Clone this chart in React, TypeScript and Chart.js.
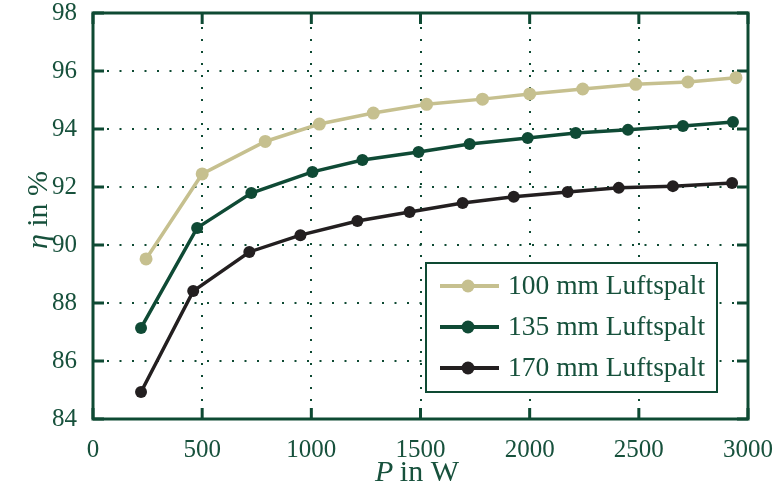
import React, { useEffect, useRef } from "react";
import { Chart, registerables } from "chart.js";

Chart.register(...registerables);

const seriesLabels = ["100 mm Luftspalt", "135 mm Luftspalt", "170 mm Luftspalt"];
const seriesColors = ["#c6c08f", "#0f4a35", "#231f20"];

const powerA = [243, 500, 789, 1037, 1284, 1528, 1784, 2000, 2243, 2486, 2725, 2945];
const etaA = [89.52, 92.45, 93.57, 94.17, 94.55, 94.85, 95.03, 95.21, 95.38, 95.54, 95.62, 95.77];

const powerB = [220, 477, 725, 1005, 1234, 1491, 1725, 1991, 2211, 2450, 2702, 2931];
const etaB = [87.14, 90.59, 91.79, 92.52, 92.93, 93.21, 93.48, 93.69, 93.86, 93.97, 94.1, 94.24];

const powerC = [220, 459, 716, 950, 1211, 1450, 1693, 1927, 2174, 2408, 2656, 2927];
const etaC = [84.93, 88.41, 89.76, 90.34, 90.83, 91.14, 91.45, 91.66, 91.83, 91.97, 92.03, 92.14];

const xTicks = [0, 500, 1000, 1500, 2000, 2500, 3000];
const yTicks = [84, 86, 88, 90, 92, 94, 96, 98];

const xTitleItalic = "P";
const xTitleRest = " in W";
const yTitleGreek = "η";
const yTitleRest = " in %";

const FONT = "'Liberation Serif', 'Times New Roman', serif";
const TEXT = "#17513c";
const LINE = "#0e4a33";

const framePlugin = {
  id: "framePlugin",
  beforeDatasetsDraw(chart: any) {
    const { ctx, chartArea: a, scales } = chart;
    const xs = scales.x;
    const ys = scales.y;
    ctx.save();
    ctx.strokeStyle = LINE;
    ctx.lineWidth = 2;
    ctx.setLineDash([2, 10.5]);
    yTicks.slice(1, -1).forEach((v) => {
      const y = Math.round(ys.getPixelForValue(v));
      ctx.beginPath();
      ctx.moveTo(a.left + 14, y);
      ctx.lineTo(a.right - 2, y);
      ctx.stroke();
    });
    ctx.setLineDash([2, 10]);
    xTicks.slice(1, -1).forEach((v) => {
      const x = Math.round(xs.getPixelForValue(v));
      ctx.beginPath();
      ctx.moveTo(x, a.top + 14);
      ctx.lineTo(x, a.bottom - 2);
      ctx.stroke();
    });
    ctx.setLineDash([]);
    ctx.lineWidth = 3;
    ctx.strokeRect(a.left, a.top, a.right - a.left, a.bottom - a.top);
    const tl = 11;
    yTicks.forEach((v) => {
      const y = ys.getPixelForValue(v);
      ctx.beginPath();
      ctx.moveTo(a.left, y);
      ctx.lineTo(a.left + tl, y);
      ctx.moveTo(a.right, y);
      ctx.lineTo(a.right - tl, y);
      ctx.stroke();
    });
    xTicks.forEach((v) => {
      const x = xs.getPixelForValue(v);
      ctx.beginPath();
      ctx.moveTo(x, a.bottom);
      ctx.lineTo(x, a.bottom - tl);
      ctx.moveTo(x, a.top);
      ctx.lineTo(x, a.top + tl);
      ctx.stroke();
    });
    ctx.restore();
  },
  afterDatasetsDraw(chart: any) {
    const { ctx, chartArea: a } = chart;
    ctx.save();
    const bx = a.right - 322;
    const by = a.bottom - 156;
    const bw = 291;
    const bh = 129;
    ctx.fillStyle = "#ffffff";
    ctx.fillRect(bx, by, bw, bh);
    ctx.strokeStyle = LINE;
    ctx.lineWidth = 2;
    ctx.strokeRect(bx, by, bw, bh);
    chart.data.datasets.forEach((ds: any, i: number) => {
      const y = by + 23 + i * 41;
      ctx.strokeStyle = ds.borderColor;
      ctx.lineWidth = 4;
      ctx.beginPath();
      ctx.moveTo(bx + 14, y);
      ctx.lineTo(bx + 73, y);
      ctx.stroke();
      ctx.fillStyle = ds.backgroundColor;
      ctx.beginPath();
      ctx.arc(bx + 42, y, 6.5, 0, Math.PI * 2);
      ctx.fill();
      ctx.fillStyle = TEXT;
      ctx.font = `27.5px ${FONT}`;
      ctx.textBaseline = "middle";
      ctx.textAlign = "left";
      ctx.fillText(ds.label, bx + 82, y + 1);
    });
    ctx.restore();
  },
  afterDraw(chart: any) {
    const { ctx, chartArea: a } = chart;
    ctx.save();
    ctx.fillStyle = TEXT;
    ctx.textBaseline = "alphabetic";
    const cx = (a.left + a.right) / 2 - 3;
    ctx.font = `italic 30px ${FONT}`;
    const w1 = ctx.measureText(xTitleItalic).width;
    ctx.font = `30px ${FONT}`;
    const w2 = ctx.measureText(xTitleRest).width;
    const x0 = cx - (w1 + w2) / 2;
    ctx.font = `italic 30px ${FONT}`;
    ctx.fillText(xTitleItalic, x0, 481);
    ctx.font = `30px ${FONT}`;
    ctx.fillText(xTitleRest, x0 + w1 - 1, 481);
    ctx.translate(47, 210);
    ctx.rotate(-Math.PI / 2);
    ctx.font = `italic 30px ${FONT}`;
    const g1 = ctx.measureText(yTitleGreek).width;
    ctx.font = `30px ${FONT}`;
    const g2 = ctx.measureText(yTitleRest).width;
    const gx = -(g1 + g2) / 2;
    ctx.font = `italic 30px ${FONT}`;
    ctx.fillText(yTitleGreek, gx, 0);
    ctx.font = `30px ${FONT}`;
    ctx.fillText(yTitleRest, gx + g1, 0);
    ctx.restore();
  },
};

function makeData(xs: number[], ys: number[]) {
  return xs.map((x, i) => ({ x, y: ys[i] }));
}

export default function App() {
  const ref = useRef<HTMLCanvasElement | null>(null);
  useEffect(() => {
    if (!ref.current) return;
    const sets = [
      [powerA, etaA],
      [powerB, etaB],
      [powerC, etaC],
    ];
    const chart = new Chart(ref.current, {
      type: "line",
      data: {
        datasets: sets.map(([xs, ys], i) => ({
          label: seriesLabels[i],
          data: makeData(xs, ys),
          borderColor: seriesColors[i],
          backgroundColor: seriesColors[i],
          pointBackgroundColor: seriesColors[i],
          pointBorderColor: seriesColors[i],
          pointRadius: i === 0 ? 6.5 : 6,
          pointBorderWidth: 0,
          borderWidth: 3.5,
          tension: 0,
          fill: false,
        })),
      },
      options: {
        animation: false,
        responsive: false,
        devicePixelRatio: 1,
        layout: { padding: { left: 0, top: 13, right: 25, bottom: 0 } },
        plugins: {
          legend: { display: false },
          tooltip: { enabled: false },
        },
        scales: {
          x: {
            type: "linear",
            min: 0,
            max: 3000,
            afterBuildTicks: (s: any) => {
              s.ticks = xTicks.map((v) => ({ value: v }));
            },
            afterFit: (s: any) => {
              s.height = 69;
              s.paddingLeft = 0;
              s.paddingRight = 0;
            },
            grid: { display: false },
            border: { display: false },
            ticks: {
              padding: 8,
              color: TEXT,
              font: { family: FONT, size: 25 },
              maxRotation: 0,
              callback: (v: any) => String(v),
            },
          },
          y: {
            type: "linear",
            min: 84,
            max: 98,
            afterBuildTicks: (s: any) => {
              s.ticks = yTicks.map((v) => ({ value: v }));
            },
            afterFit: (s: any) => {
              s.width = 93;
              s.paddingTop = 0;
              s.paddingBottom = 0;
            },
            grid: { display: false },
            border: { display: false },
            ticks: {
              padding: 8,
              color: TEXT,
              font: { family: FONT, size: 25 },
              callback: (v: any) => String(v),
            },
          },
        },
      },
      plugins: [framePlugin],
    });
    return () => chart.destroy();
  }, []);
  return (
    <div style={{ position: "absolute", left: 0, top: 0, width: 773, height: 488, background: "#fff" }}>
      <canvas ref={ref} width={773} height={488} />
    </div>
  );
}
